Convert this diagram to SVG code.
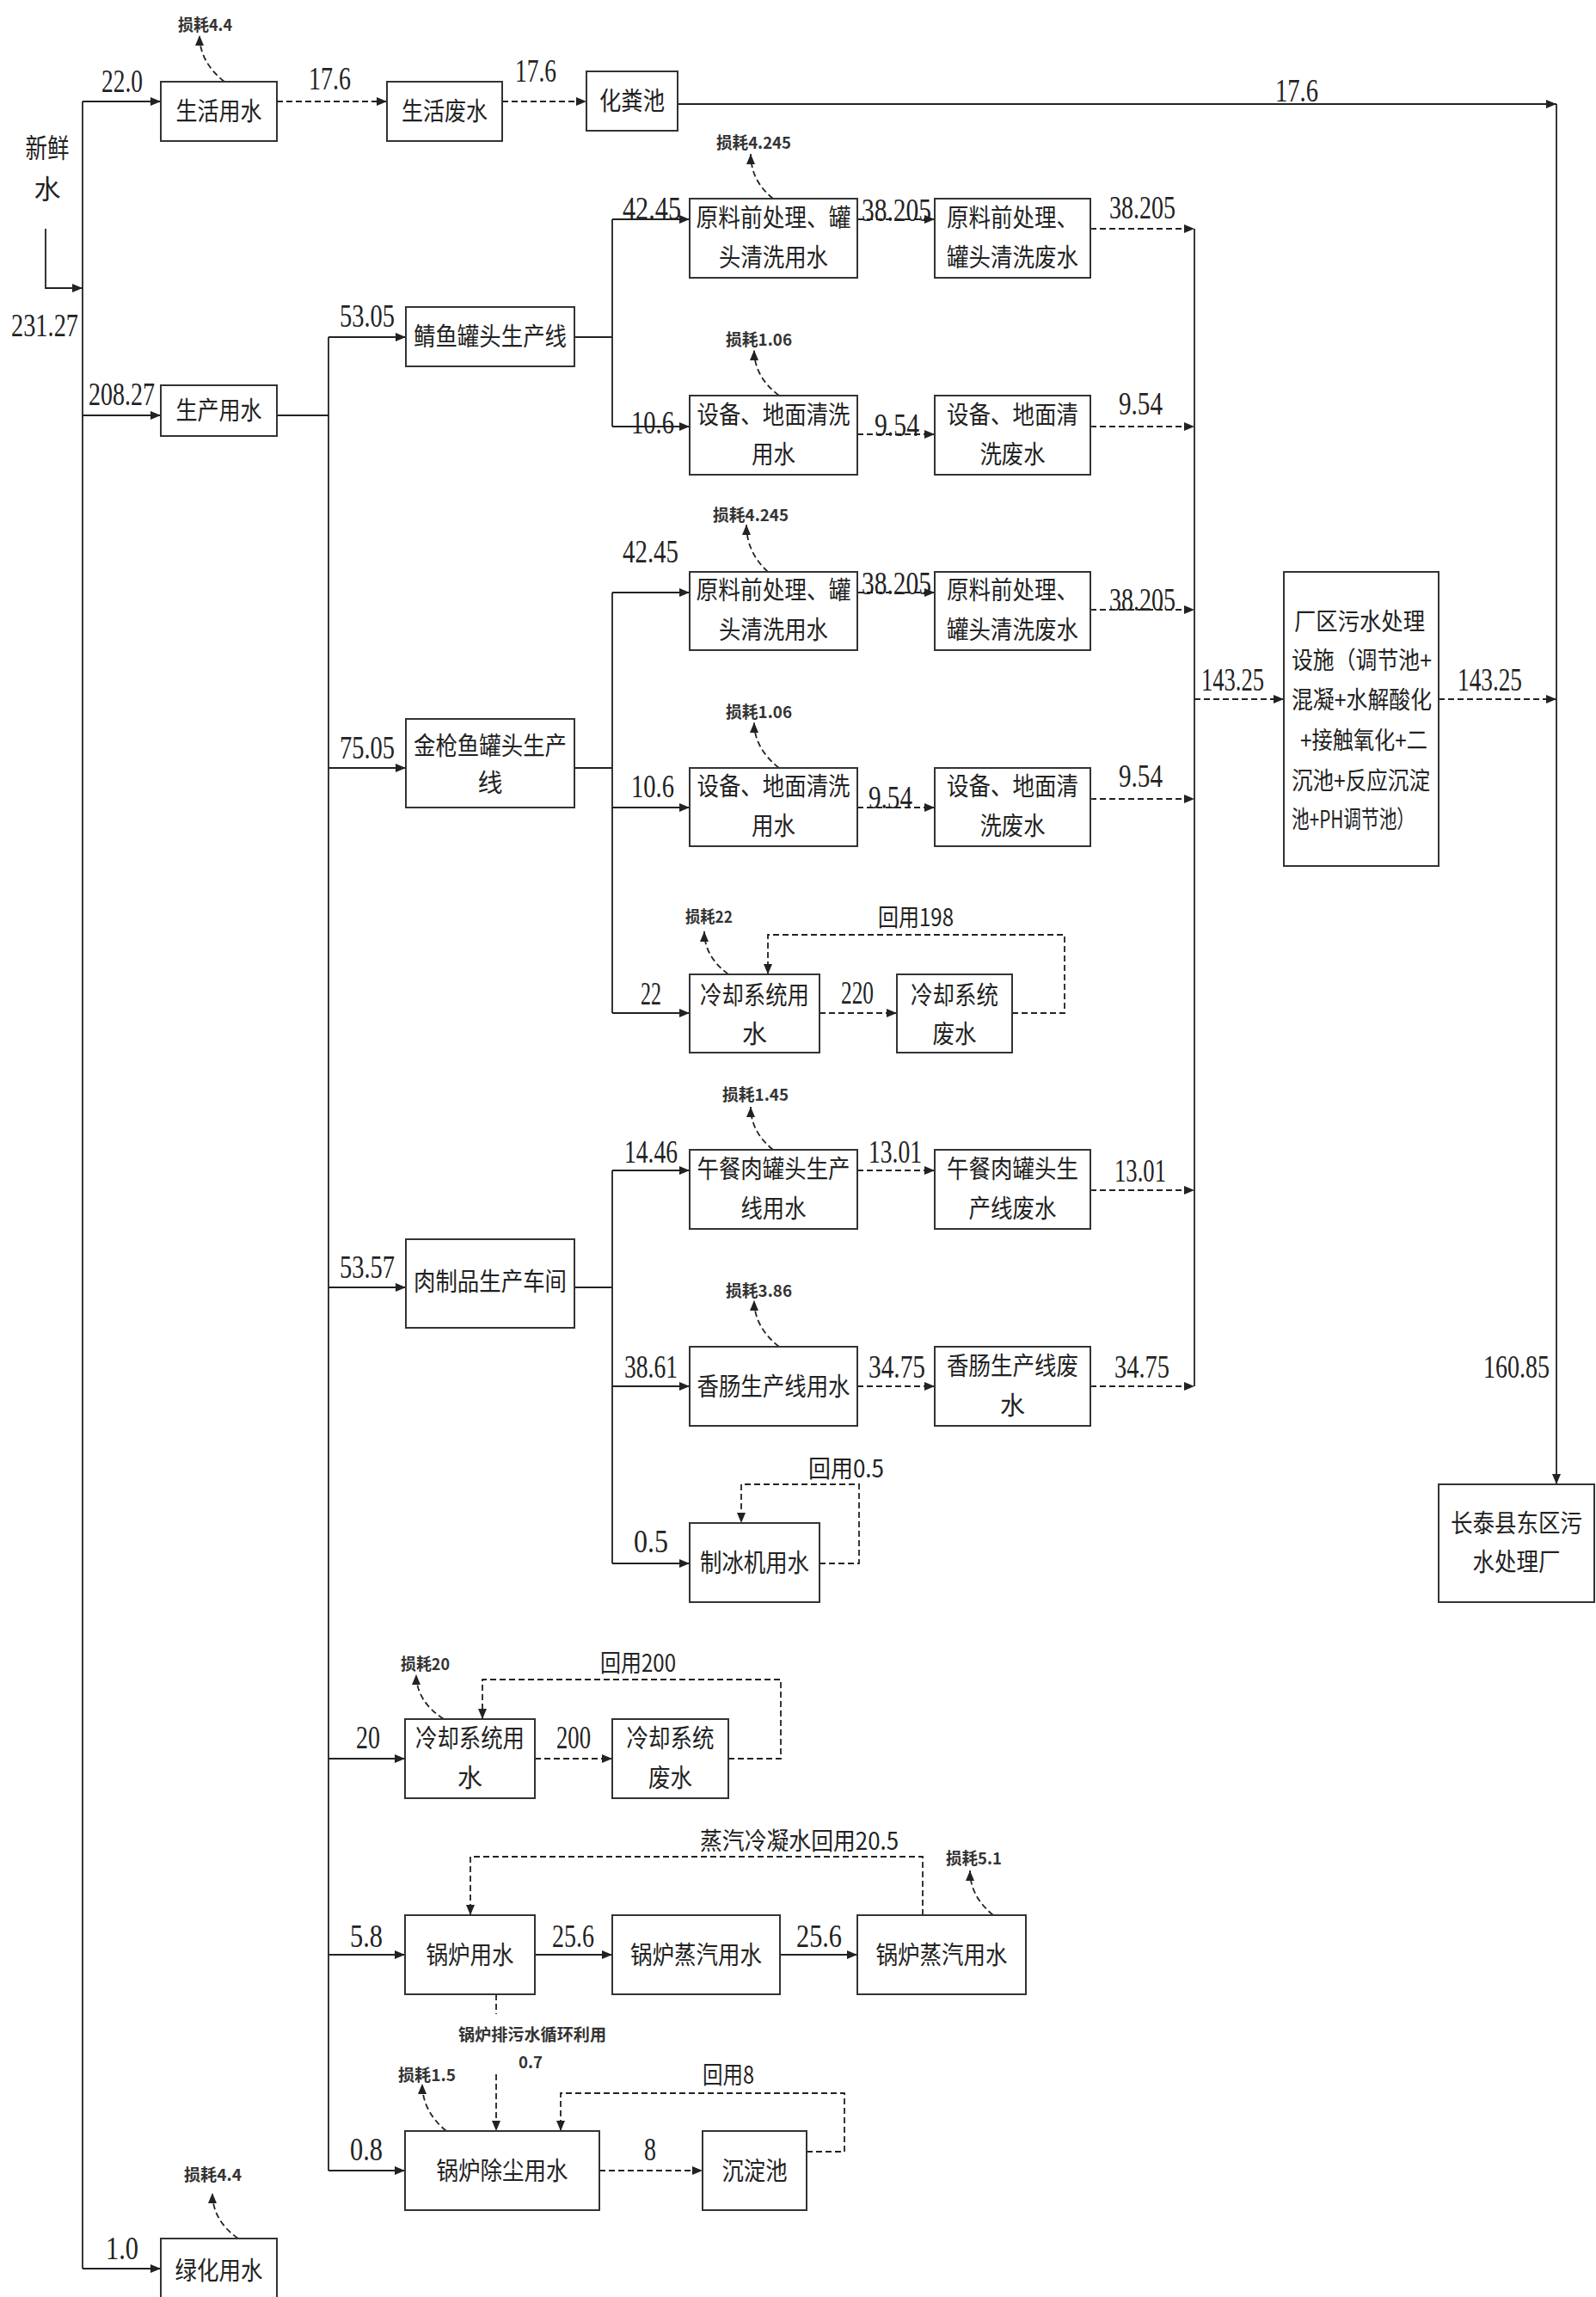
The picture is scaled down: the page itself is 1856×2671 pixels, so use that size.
<svg xmlns="http://www.w3.org/2000/svg" width="1856" height="2671" viewBox="0 0 1856 2671">
<style>
.b{fill:#fff;stroke:#333;stroke-width:2}
.c{fill:none;stroke:#222;stroke-width:1.8}
.d{stroke-dasharray:7 4}
.t{font-family:"Noto Sans CJK SC",sans-serif;font-size:29px;fill:#222;text-anchor:middle}
.n{font-family:"Liberation Serif",serif;font-size:37px;fill:#222}
.s{font-family:"Noto Sans CJK SC",sans-serif;font-size:19px;font-weight:bold;fill:#333}
.r{font-family:"Noto Sans CJK SC",sans-serif;font-size:28px;fill:#222}
</style>
<defs>
<marker id="ah" markerUnits="userSpaceOnUse" markerWidth="14" markerHeight="12" refX="12" refY="5" orient="auto"><path d="M0,0 L12,5 L0,10 z" fill="#222"/></marker>
</defs>
<rect width="1856" height="2671" fill="#fff"/>

<g id="connectors">
<path class="c" d="M53,266 V335 H96" marker-end="url(#ah)"/>
<path class="c" d="M96,118 V2638"/>
<path class="c" d="M96,118 H187" marker-end="url(#ah)"/>
<path class="c" d="M96,483 H187" marker-end="url(#ah)"/>
<path class="c" d="M96,2638 H187" marker-end="url(#ah)"/>
<path class="c" d="M322,483 H382 M382,392 V2524"/>
<path class="c" d="M382,392 H472" marker-end="url(#ah)"/>
<path class="c" d="M382,893 H472" marker-end="url(#ah)"/>
<path class="c" d="M382,1497 H472" marker-end="url(#ah)"/>
<path class="c" d="M382,2045 H471" marker-end="url(#ah)"/>
<path class="c" d="M382,2273 H471" marker-end="url(#ah)"/>
<path class="c" d="M382,2524 H471" marker-end="url(#ah)"/>
<path class="c" d="M668,392 H712 M712,255 V496"/>
<path class="c" d="M712,255 H802" marker-end="url(#ah)"/>
<path class="c" d="M712,496 H802" marker-end="url(#ah)"/>
<path class="c" d="M668,893 H712 M712,689 V1178"/>
<path class="c" d="M712,689 H802" marker-end="url(#ah)"/>
<path class="c" d="M712,939 H802" marker-end="url(#ah)"/>
<path class="c" d="M712,1178 H802" marker-end="url(#ah)"/>
<path class="c" d="M668,1497 H712 M712,1361 V1818"/>
<path class="c" d="M712,1361 H802" marker-end="url(#ah)"/>
<path class="c" d="M712,1612 H802" marker-end="url(#ah)"/>
<path class="c" d="M712,1818 H802" marker-end="url(#ah)"/>
<path class="c" d="M788,121 H1810" marker-end="url(#ah)"/>
<path class="c" d="M1810,121 V1726" marker-end="url(#ah)"/>
<path class="c" d="M1389,266 V1612"/>
<path class="c" d="M622,2273 H712" marker-end="url(#ah)"/>
<path class="c" d="M907,2273 H997" marker-end="url(#ah)"/>
<path class="c d" d="M322,118 H450" marker-end="url(#ah)"/>
<path class="c d" d="M584,118 H682" marker-end="url(#ah)"/>
<path class="c d" d="M997,255 H1087" marker-end="url(#ah)"/>
<path class="c d" d="M1268,266 H1389" marker-end="url(#ah)"/>
<path class="c d" d="M997,505 H1087" marker-end="url(#ah)"/>
<path class="c d" d="M1268,496 H1389" marker-end="url(#ah)"/>
<path class="c d" d="M997,689 H1087" marker-end="url(#ah)"/>
<path class="c d" d="M1268,709 H1389" marker-end="url(#ah)"/>
<path class="c d" d="M997,939 H1087" marker-end="url(#ah)"/>
<path class="c d" d="M1268,929 H1389" marker-end="url(#ah)"/>
<path class="c d" d="M953,1178 H1043" marker-end="url(#ah)"/>
<path class="c d" d="M997,1361 H1087" marker-end="url(#ah)"/>
<path class="c d" d="M1268,1384 H1389" marker-end="url(#ah)"/>
<path class="c d" d="M997,1612 H1087" marker-end="url(#ah)"/>
<path class="c d" d="M1268,1612 H1389" marker-end="url(#ah)"/>
<path class="c d" d="M1389,813 H1493" marker-end="url(#ah)"/>
<path class="c d" d="M1673,813 H1810" marker-end="url(#ah)"/>
<path class="c d" d="M622,2045 H712" marker-end="url(#ah)"/>
<path class="c d" d="M697,2524 H817" marker-end="url(#ah)"/>
<path class="c d" d="M1177,1178 H1238 V1087 H893 V1133" marker-end="url(#ah)"/>
<path class="c d" d="M953,1818 H999 V1726 H862 V1771" marker-end="url(#ah)"/>
<path class="c d" d="M847,2045 H908 V1953 H561 V1999" marker-end="url(#ah)"/>
<path class="c d" d="M1073,2227 V2159 H547 V2227" marker-end="url(#ah)"/>
<path class="c d" d="M938,2502 H982 V2434 H652 V2478" marker-end="url(#ah)"/>
<path class="c d" d="M577,2319 V2342"/>
<path class="c d" d="M577,2412 V2478" marker-end="url(#ah)"/>
<path class="c d" d="M261,95 Q232,72 232,41" marker-end="url(#ah)"/>
<path class="c d" d="M899,231 Q873,210 873,179" marker-end="url(#ah)"/>
<path class="c d" d="M906,460 Q877,438 877,407" marker-end="url(#ah)"/>
<path class="c d" d="M893,665 Q868,642 868,610" marker-end="url(#ah)"/>
<path class="c d" d="M906,893 Q877,870 877,840" marker-end="url(#ah)"/>
<path class="c d" d="M847,1133 Q819,1112 819,1083" marker-end="url(#ah)"/>
<path class="c d" d="M899,1337 Q873,1316 873,1287" marker-end="url(#ah)"/>
<path class="c d" d="M906,1566 Q877,1543 877,1512" marker-end="url(#ah)"/>
<path class="c d" d="M516,1999 Q484,1978 484,1947" marker-end="url(#ah)"/>
<path class="c d" d="M1155,2227 Q1128,2205 1128,2175" marker-end="url(#ah)"/>
<path class="c d" d="M519,2478 Q491,2455 491,2423" marker-end="url(#ah)"/>
<path class="c d" d="M277,2603 Q247,2582 247,2550" marker-end="url(#ah)"/>
</g>

<g id="labels">
<text class="t" x="55" y="183" style="font-size:31px" textLength="51" lengthAdjust="spacingAndGlyphs">新鲜</text>
<text class="t" x="55" y="231" style="font-size:31px">水</text>
<text class="n" x="118" y="107" textLength="48" lengthAdjust="spacingAndGlyphs">22.0</text>
<text class="n" x="359" y="104" textLength="49" lengthAdjust="spacingAndGlyphs">17.6</text>
<text class="n" x="599" y="95" textLength="48" lengthAdjust="spacingAndGlyphs">17.6</text>
<text class="n" x="1483" y="118" textLength="50" lengthAdjust="spacingAndGlyphs">17.6</text>
<text class="n" x="13" y="391" textLength="78" lengthAdjust="spacingAndGlyphs">231.27</text>
<text class="n" x="103" y="471" textLength="77" lengthAdjust="spacingAndGlyphs">208.27</text>
<text class="n" x="395" y="380" textLength="64" lengthAdjust="spacingAndGlyphs">53.05</text>
<text class="n" x="724" y="255" textLength="68" lengthAdjust="spacingAndGlyphs">42.45</text>
<text class="n" x="734" y="504" textLength="50" lengthAdjust="spacingAndGlyphs">10.6</text>
<text class="n" x="1002" y="257" textLength="81" lengthAdjust="spacingAndGlyphs">38.205</text>
<text class="n" x="1290" y="254" textLength="77" lengthAdjust="spacingAndGlyphs">38.205</text>
<text class="n" x="1017" y="507" textLength="52" lengthAdjust="spacingAndGlyphs">9.54</text>
<text class="n" x="1301" y="482" textLength="51" lengthAdjust="spacingAndGlyphs">9.54</text>
<text class="n" x="724" y="654" textLength="65" lengthAdjust="spacingAndGlyphs">42.45</text>
<text class="n" x="1002" y="691" textLength="81" lengthAdjust="spacingAndGlyphs">38.205</text>
<text class="n" x="1290" y="710" textLength="77" lengthAdjust="spacingAndGlyphs">38.205</text>
<text class="n" x="395" y="882" textLength="64" lengthAdjust="spacingAndGlyphs">75.05</text>
<text class="n" x="734" y="927" textLength="50" lengthAdjust="spacingAndGlyphs">10.6</text>
<text class="n" x="1010" y="940" textLength="51" lengthAdjust="spacingAndGlyphs">9.54</text>
<text class="n" x="1301" y="915" textLength="51" lengthAdjust="spacingAndGlyphs">9.54</text>
<text class="n" x="1397" y="803" textLength="73" lengthAdjust="spacingAndGlyphs">143.25</text>
<text class="n" x="1695" y="803" textLength="75" lengthAdjust="spacingAndGlyphs">143.25</text>
<text class="n" x="745" y="1168" textLength="24" lengthAdjust="spacingAndGlyphs">22</text>
<text class="n" x="978" y="1167" textLength="38" lengthAdjust="spacingAndGlyphs">220</text>
<text class="n" x="726" y="1352" textLength="62" lengthAdjust="spacingAndGlyphs">14.46</text>
<text class="n" x="1010" y="1352" textLength="62" lengthAdjust="spacingAndGlyphs">13.01</text>
<text class="n" x="1296" y="1374" textLength="60" lengthAdjust="spacingAndGlyphs">13.01</text>
<text class="n" x="395" y="1486" textLength="64" lengthAdjust="spacingAndGlyphs">53.57</text>
<text class="n" x="726" y="1602" textLength="62" lengthAdjust="spacingAndGlyphs">38.61</text>
<text class="n" x="1010" y="1602" textLength="66" lengthAdjust="spacingAndGlyphs">34.75</text>
<text class="n" x="1296" y="1602" textLength="64" lengthAdjust="spacingAndGlyphs">34.75</text>
<text class="n" x="1725" y="1602" textLength="77" lengthAdjust="spacingAndGlyphs">160.85</text>
<text class="n" x="737" y="1805" textLength="40" lengthAdjust="spacingAndGlyphs">0.5</text>
<text class="n" x="414" y="2033" textLength="28" lengthAdjust="spacingAndGlyphs">20</text>
<text class="n" x="647" y="2033" textLength="40" lengthAdjust="spacingAndGlyphs">200</text>
<text class="n" x="407" y="2264" textLength="38" lengthAdjust="spacingAndGlyphs">5.8</text>
<text class="n" x="642" y="2264" textLength="49" lengthAdjust="spacingAndGlyphs">25.6</text>
<text class="n" x="926" y="2264" textLength="53" lengthAdjust="spacingAndGlyphs">25.6</text>
<text class="n" x="407" y="2512" textLength="38" lengthAdjust="spacingAndGlyphs">0.8</text>
<text class="n" x="749" y="2512" textLength="14" lengthAdjust="spacingAndGlyphs">8</text>
<text class="n" x="123" y="2627" textLength="38" lengthAdjust="spacingAndGlyphs">1.0</text>
<text class="s" x="207" y="36" textLength="63" lengthAdjust="spacingAndGlyphs">损耗4.4</text>
<text class="s" x="833" y="173" textLength="87" lengthAdjust="spacingAndGlyphs">损耗4.245</text>
<text class="s" x="844" y="402" textLength="77" lengthAdjust="spacingAndGlyphs">损耗1.06</text>
<text class="s" x="829" y="606" textLength="88" lengthAdjust="spacingAndGlyphs">损耗4.245</text>
<text class="s" x="844" y="835" textLength="77" lengthAdjust="spacingAndGlyphs">损耗1.06</text>
<text class="s" x="797" y="1073" textLength="55" lengthAdjust="spacingAndGlyphs">损耗22</text>
<text class="s" x="840" y="1280" textLength="77" lengthAdjust="spacingAndGlyphs">损耗1.45</text>
<text class="s" x="844" y="1508" textLength="77" lengthAdjust="spacingAndGlyphs">损耗3.86</text>
<text class="s" x="466" y="1942" textLength="57" lengthAdjust="spacingAndGlyphs">损耗20</text>
<text class="s" x="1100" y="2168" textLength="65" lengthAdjust="spacingAndGlyphs">损耗5.1</text>
<text class="s" x="463" y="2420" textLength="67" lengthAdjust="spacingAndGlyphs">损耗1.5</text>
<text class="s" x="214" y="2536" textLength="67" lengthAdjust="spacingAndGlyphs">损耗4.4</text>
<text class="s" x="533" y="2373" textLength="172" lengthAdjust="spacingAndGlyphs">锅炉排污水循环利用</text>
<text class="s" x="603" y="2405" textLength="28" lengthAdjust="spacingAndGlyphs">0.7</text>
<text class="r" x="1021" y="1077" textLength="88" lengthAdjust="spacingAndGlyphs">回用198</text>
<text class="r" x="940" y="1718" textLength="88" lengthAdjust="spacingAndGlyphs">回用0.5</text>
<text class="r" x="698" y="1944" textLength="88" lengthAdjust="spacingAndGlyphs">回用200</text>
<text class="r" x="814" y="2151" textLength="231" lengthAdjust="spacingAndGlyphs">蒸汽冷凝水回用20.5</text>
<text class="r" x="817" y="2423" textLength="60" lengthAdjust="spacingAndGlyphs">回用8</text>
</g>

<g id="n_shenghuo"><rect class="b" x="187" y="95" width="135" height="69"/><text class="t" x="254.5" y="140" textLength="100" lengthAdjust="spacingAndGlyphs">生活用水</text></g>
<g id="n_shenghuo_fei"><rect class="b" x="450" y="95" width="134" height="69"/><text class="t" x="517" y="140" textLength="100" lengthAdjust="spacingAndGlyphs">生活废水</text></g>
<g id="n_huafenchi"><rect class="b" x="682" y="83" width="106" height="69"/><text class="t" x="735" y="128" textLength="76" lengthAdjust="spacingAndGlyphs">化粪池</text></g>
<g id="n_shengchan"><rect class="b" x="187" y="448" width="135" height="59"/><text class="t" x="254.5" y="488" textLength="100" lengthAdjust="spacingAndGlyphs">生产用水</text></g>
<g id="n_qingyu"><rect class="b" x="472" y="357" width="196" height="69"/><text class="t" x="570" y="402" textLength="178" lengthAdjust="spacingAndGlyphs">鲭鱼罐头生产线</text></g>
<g id="n_yl1"><rect class="b" x="802" y="231" width="195" height="92"/><text class="t" x="899.5" y="263.5" textLength="180" lengthAdjust="spacingAndGlyphs">原料前处理、罐</text><text class="t" x="899.5" y="309.5" textLength="127" lengthAdjust="spacingAndGlyphs">头清洗用水</text></g>
<g id="n_yl1f"><rect class="b" x="1087" y="231" width="181" height="92"/><text class="t" x="1177.5" y="263.5" textLength="153" lengthAdjust="spacingAndGlyphs">原料前处理、</text><text class="t" x="1177.5" y="309.5" textLength="153" lengthAdjust="spacingAndGlyphs">罐头清洗废水</text></g>
<g id="n_sb1"><rect class="b" x="802" y="460" width="195" height="92"/><text class="t" x="899.5" y="492.5" textLength="178" lengthAdjust="spacingAndGlyphs">设备、地面清洗</text><text class="t" x="899.5" y="538.5" textLength="51" lengthAdjust="spacingAndGlyphs">用水</text></g>
<g id="n_sb1f"><rect class="b" x="1087" y="460" width="181" height="92"/><text class="t" x="1177.5" y="492.5" textLength="153" lengthAdjust="spacingAndGlyphs">设备、地面清</text><text class="t" x="1177.5" y="538.5" textLength="76" lengthAdjust="spacingAndGlyphs">洗废水</text></g>
<g id="n_jinqiangyu"><rect class="b" x="472" y="836" width="196" height="103"/><text class="t" x="570" y="878" textLength="178" lengthAdjust="spacingAndGlyphs">金枪鱼罐头生产</text><text class="t" x="570" y="921">线</text></g>
<g id="n_yl2"><rect class="b" x="802" y="665" width="195" height="91"/><text class="t" x="899.5" y="697" textLength="180" lengthAdjust="spacingAndGlyphs">原料前处理、罐</text><text class="t" x="899.5" y="743" textLength="127" lengthAdjust="spacingAndGlyphs">头清洗用水</text></g>
<g id="n_yl2f"><rect class="b" x="1087" y="665" width="181" height="91"/><text class="t" x="1177.5" y="697" textLength="153" lengthAdjust="spacingAndGlyphs">原料前处理、</text><text class="t" x="1177.5" y="743" textLength="153" lengthAdjust="spacingAndGlyphs">罐头清洗废水</text></g>
<g id="n_sb2"><rect class="b" x="802" y="893" width="195" height="91"/><text class="t" x="899.5" y="925" textLength="178" lengthAdjust="spacingAndGlyphs">设备、地面清洗</text><text class="t" x="899.5" y="971" textLength="51" lengthAdjust="spacingAndGlyphs">用水</text></g>
<g id="n_sb2f"><rect class="b" x="1087" y="893" width="181" height="91"/><text class="t" x="1177.5" y="925" textLength="153" lengthAdjust="spacingAndGlyphs">设备、地面清</text><text class="t" x="1177.5" y="971" textLength="76" lengthAdjust="spacingAndGlyphs">洗废水</text></g>
<g id="n_lq1"><rect class="b" x="802" y="1133" width="151" height="91"/><text class="t" x="877.5" y="1168" textLength="127" lengthAdjust="spacingAndGlyphs">冷却系统用</text><text class="t" x="877.5" y="1213">水</text></g>
<g id="n_lq1f"><rect class="b" x="1043" y="1133" width="134" height="91"/><text class="t" x="1110" y="1168" textLength="102" lengthAdjust="spacingAndGlyphs">冷却系统</text><text class="t" x="1110" y="1213" textLength="51" lengthAdjust="spacingAndGlyphs">废水</text></g>
<g id="n_changqu"><rect class="b" x="1493" y="665" width="180" height="342"/>
<text class="r" x="1505" y="733" textLength="152" lengthAdjust="spacingAndGlyphs">厂区污水处理</text>
<text class="r" x="1502" y="778" textLength="163" lengthAdjust="spacingAndGlyphs">设施（调节池+</text>
<text class="r" x="1502" y="824" textLength="163" lengthAdjust="spacingAndGlyphs">混凝+水解酸化</text>
<text class="r" x="1512" y="871" textLength="148" lengthAdjust="spacingAndGlyphs">+接触氧化+二</text>
<text class="r" x="1502" y="918" textLength="161" lengthAdjust="spacingAndGlyphs">沉池+反应沉淀</text>
<text class="r" x="1502" y="963" textLength="143" lengthAdjust="spacingAndGlyphs">池+PH调节池）</text></g>
<g id="n_wucan"><rect class="b" x="802" y="1337" width="195" height="92"/><text class="t" x="899.5" y="1369.5" textLength="178" lengthAdjust="spacingAndGlyphs">午餐肉罐头生产</text><text class="t" x="899.5" y="1415.5" textLength="76" lengthAdjust="spacingAndGlyphs">线用水</text></g>
<g id="n_wucanf"><rect class="b" x="1087" y="1337" width="181" height="92"/><text class="t" x="1177.5" y="1369.5" textLength="153" lengthAdjust="spacingAndGlyphs">午餐肉罐头生</text><text class="t" x="1177.5" y="1415.5" textLength="102" lengthAdjust="spacingAndGlyphs">产线废水</text></g>
<g id="n_rouzhipin"><rect class="b" x="472" y="1441" width="196" height="103"/><text class="t" x="570" y="1501" textLength="178" lengthAdjust="spacingAndGlyphs">肉制品生产车间</text></g>
<g id="n_xiangchang"><rect class="b" x="802" y="1566" width="195" height="92"/><text class="t" x="899.5" y="1622.5" textLength="178" lengthAdjust="spacingAndGlyphs">香肠生产线用水</text></g>
<g id="n_xiangchangf"><rect class="b" x="1087" y="1566" width="181" height="92"/><text class="t" x="1177.5" y="1598.5" textLength="153" lengthAdjust="spacingAndGlyphs">香肠生产线废</text><text class="t" x="1177.5" y="1644.5">水</text></g>
<g id="n_zhibing"><rect class="b" x="802" y="1771" width="151" height="92"/><text class="t" x="877.5" y="1827.5" textLength="127" lengthAdjust="spacingAndGlyphs">制冰机用水</text></g>
<g id="n_changtai"><rect class="b" x="1673" y="1726" width="181" height="137"/><text class="t" x="1763.5" y="1781.5" textLength="153" lengthAdjust="spacingAndGlyphs">长泰县东区污</text><text class="t" x="1763.5" y="1826.5" textLength="102" lengthAdjust="spacingAndGlyphs">水处理厂</text></g>
<g id="n_lq2"><rect class="b" x="471" y="1999" width="151" height="92"/><text class="t" x="546.5" y="2031.5" textLength="127" lengthAdjust="spacingAndGlyphs">冷却系统用</text><text class="t" x="546.5" y="2077.5">水</text></g>
<g id="n_lq2f"><rect class="b" x="712" y="1999" width="135" height="92"/><text class="t" x="779.5" y="2031.5" textLength="102" lengthAdjust="spacingAndGlyphs">冷却系统</text><text class="t" x="779.5" y="2077.5" textLength="51" lengthAdjust="spacingAndGlyphs">废水</text></g>
<g id="n_guolu"><rect class="b" x="471" y="2227" width="151" height="92"/><text class="t" x="546.5" y="2283.5" textLength="102" lengthAdjust="spacingAndGlyphs">锅炉用水</text></g>
<g id="n_zhengqi1"><rect class="b" x="712" y="2227" width="195" height="92"/><text class="t" x="809.5" y="2283.5" textLength="153" lengthAdjust="spacingAndGlyphs">锅炉蒸汽用水</text></g>
<g id="n_zhengqi2"><rect class="b" x="997" y="2227" width="196" height="92"/><text class="t" x="1095" y="2283.5" textLength="153" lengthAdjust="spacingAndGlyphs">锅炉蒸汽用水</text></g>
<g id="n_chuchen"><rect class="b" x="471" y="2478" width="226" height="92"/><text class="t" x="584" y="2534.5" textLength="153" lengthAdjust="spacingAndGlyphs">锅炉除尘用水</text></g>
<g id="n_chendian"><rect class="b" x="817" y="2478" width="121" height="92"/><text class="t" x="877.5" y="2534.5" textLength="76" lengthAdjust="spacingAndGlyphs">沉淀池</text></g>
<g id="n_lvhua"><rect class="b" x="187" y="2603" width="135" height="80"/><text class="t" x="254.5" y="2650.5" textLength="102" lengthAdjust="spacingAndGlyphs">绿化用水</text></g>
</svg>
